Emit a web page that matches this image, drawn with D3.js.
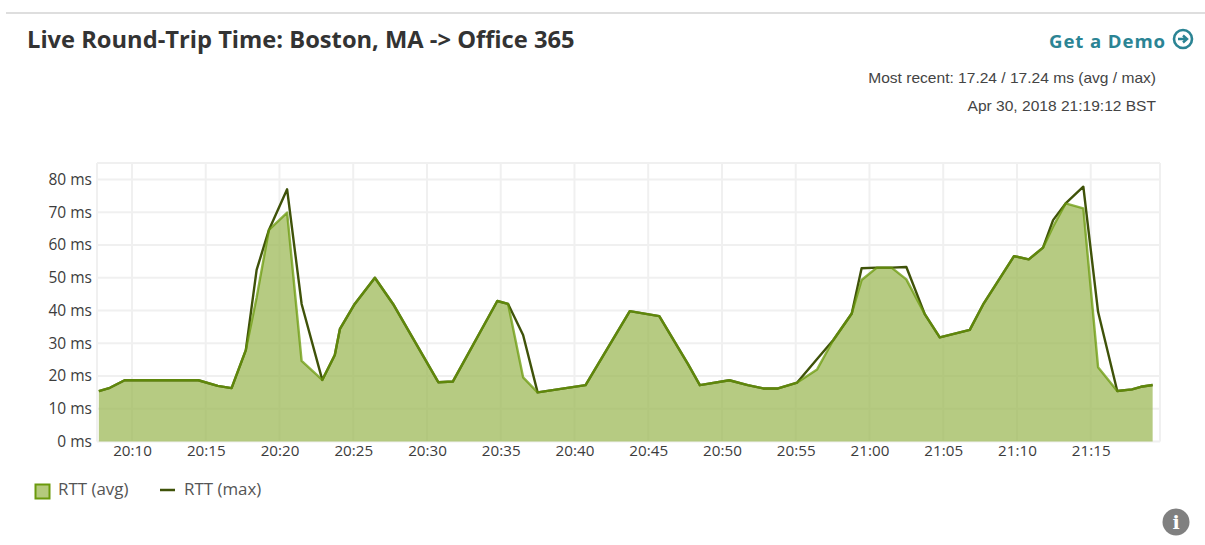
<!DOCTYPE html>
<html>
<head>
<meta charset="utf-8">
<script src="https://cdn.jsdelivr.net/npm/d3@7"></script>
<style>
  html, body { margin: 0; padding: 0; background: #fff; overflow: hidden; }
  svg { display: block; }
</style>
</head>
<body>
<div id="chart"></div>
<script>
// minutes after 20:00
const minutes = [7.76, 8.5, 9.5, 14.5, 15.83, 16.76, 17.73, 18.45, 19.29, 20.53, 21.5, 22.9, 23.76, 24.1, 25.1, 26.47, 27.7, 30.77, 31.75, 34.77, 35.5, 36.53, 37.5, 40.75, 43.76, 45.75, 47.7, 48.5, 50.5, 51.76, 52.8, 53.8, 55.1, 56.46, 57.55, 58.8, 59.47, 60.5, 61.5, 62.5, 63.76, 64.78, 66.8, 67.75, 69.8, 70.8, 71.78, 72.46, 73.3, 74.5, 75.5, 76.8, 77.8, 78.4, 79.2];
const rttAvg = [15.4, 16.4, 18.7, 18.7, 17, 16.3, 27.9, 44, 64.6, 69.9, 24.6, 18.8, 26.4, 34.4, 42, 50, 42, 18.1, 18.3, 42.9, 42, 19.6, 15, 17.2, 39.8, 38.3, 23.6, 17.2, 18.7, 17.2, 16.2, 16.2, 18, 22, 31, 39.1, 49.3, 53.1, 53.1, 49.5, 38.9, 31.8, 34.1, 42.2, 56.6, 55.6, 59.2, 65.6, 72.7, 71.2, 22.7, 15.4, 15.9, 16.7, 17.24];
const rttMax = [15.4, 16.4, 18.7, 18.7, 17, 16.3, 27.9, 52.4, 64.6, 77, 42, 18.8, 26.4, 34.4, 42, 50, 42, 18.1, 18.3, 42.9, 42, 32.5, 15, 17.2, 39.8, 38.3, 23.6, 17.2, 18.7, 17.2, 16.2, 16.2, 18, 25.2, 31, 39.1, 52.9, 53.1, 53.1, 53.3, 38.9, 31.8, 34.1, 42.2, 56.6, 55.6, 59.2, 67.6, 72.7, 77.8, 39.6, 15.4, 15.9, 16.7, 17.24];
const yTicks = [0, 10, 20, 30, 40, 50, 60, 70, 80];
const legendLabels = ["RTT (avg)", "RTT (max)"];

const width = 1205, height = 545;
const colorAvg = "#6b9a0c", colorMax = "#3f5209", colorFill = "#9dba58", gridColor = "#f0f0f0";
const openSans = "'Open Sans', sans-serif";
const arial = "'Liberation Sans', Arial, sans-serif";

const toDate = m => new Date(Date.UTC(2018, 3, 30, 20, 0, m * 60));
const points = minutes.map((m, i) => ({ t: toDate(m), avg: rttAvg[i], max: rttMax[i] }));

const svg = d3.select("#chart").append("svg")
    .attr("width", width)
    .attr("height", height)
    .attr("viewBox", `0 0 ${width} ${height}`);

// top rule
svg.append("rect").attr("x", 6).attr("y", 12).attr("width", width - 6).attr("height", 2).attr("fill", "#dedede");

// header
svg.append("text").attr("x", 27).attr("y", 48)
    .attr("font-family", openSans).attr("font-weight", 700).attr("font-size", 23.7)
    .attr("fill", "#333").text("Live Round-Trip Time: Boston, MA -> Office 365");
svg.append("text").attr("x", 1166).attr("y", 48).attr("text-anchor", "end")
    .attr("font-family", openSans).attr("font-weight", 700).attr("font-size", 18.6).attr("letter-spacing", 0.9)
    .attr("fill", "#2b8494").text("Get a Demo");
const demo = svg.append("g").attr("transform", "translate(1183,39)");
demo.append("circle").attr("r", 9).attr("fill", "none").attr("stroke", "#2b8494").attr("stroke-width", 2.6);
demo.append("path").attr("d", "M-5,0H3.5M0,-3.5L4,0L0,3.5").attr("fill", "none").attr("stroke", "#2b8494").attr("stroke-width", 2.4);
svg.append("text").attr("x", 1156).attr("y", 83).attr("text-anchor", "end")
    .attr("font-family", arial).attr("font-size", 15.55).attr("fill", "#444")
    .text("Most recent: 17.24 / 17.24 ms (avg / max)");
svg.append("text").attr("x", 1156).attr("y", 111).attr("text-anchor", "end")
    .attr("font-family", arial).attr("font-size", 15.55).attr("fill", "#444")
    .text("Apr 30, 2018 21:19:12 BST");

// scales: 20:10 sits at 132, 21:15 at 1091; 0 ms at 441.5, 80 ms at 179.5
const x = d3.scaleUtc().domain([toDate(10), toDate(75)]).range([132, 1090.7]);
const y = d3.scaleLinear().domain([0, 80]).range([441.5, 179.5]);
const plotLeft = 97, plotRight = 1160, plotTop = 163;
const xTicks = d3.utcMinute.every(5).range(toDate(10), toDate(76));

// frame and grid
const grid = svg.append("g").attr("stroke", gridColor).attr("stroke-width", 2);
yTicks.forEach(v => grid.append("line").attr("x1", plotLeft).attr("x2", plotRight).attr("y1", y(v)).attr("y2", y(v)));
xTicks.forEach(t => grid.append("line").attr("x1", x(t)).attr("x2", x(t)).attr("y1", plotTop).attr("y2", y(0)));
[plotLeft, plotRight].forEach(px => grid.append("line").attr("x1", px).attr("x2", px).attr("y1", plotTop).attr("y2", y(0)));
grid.append("line").attr("x1", plotLeft).attr("x2", plotRight).attr("y1", plotTop).attr("y2", plotTop);

// axes
const yAxis = svg.append("g").attr("transform", `translate(${plotLeft - 5},0)`)
    .call(d3.axisLeft(y).tickValues(yTicks).tickSize(0).tickPadding(0).tickFormat(d => `${d} ms`));
const xAxis = svg.append("g").attr("transform", `translate(0,${y(0)})`)
    .call(d3.axisBottom(x).tickValues(xTicks).tickSize(0).tickPadding(4).tickFormat(d3.utcFormat("%H:%M")));
[yAxis, xAxis].forEach(a => {
    a.select(".domain").remove();
    a.selectAll("text").attr("font-family", openSans).attr("fill", "#3c3c3c");
});
yAxis.selectAll("text").attr("font-size", 15.5);
xAxis.selectAll("text").attr("font-size", 15.2);

// area + lines, avg on top of max at partial opacity so shared stretches mix
const area = d3.area().x(d => x(d.t)).y0(y(0)).y1(d => y(d.avg));
const lineAvg = d3.line().x(d => x(d.t)).y(d => y(d.avg));
const lineMax = d3.line().x(d => x(d.t)).y(d => y(d.max));
svg.append("path").datum(points).attr("d", area).attr("fill", colorFill).attr("fill-opacity", 0.75);
svg.append("path").datum(points).attr("d", lineMax).attr("fill", "none").attr("stroke", colorMax).attr("stroke-width", 2.4).attr("stroke-linejoin", "round");
svg.append("path").datum(points).attr("d", lineAvg).attr("fill", "none").attr("stroke", colorAvg).attr("stroke-width", 2.4).attr("stroke-linejoin", "round").attr("stroke-opacity", 0.75);

// legend
svg.append("rect").attr("x", 35.5).attr("y", 484.5).attr("width", 14).attr("height", 14)
    .attr("fill", "#b5ca7d").attr("stroke", colorAvg).attr("stroke-width", 2);
svg.append("line").attr("x1", 160).attr("x2", 175).attr("y1", 490).attr("y2", 490)
    .attr("stroke", colorMax).attr("stroke-width", 2.5);
[58, 184].forEach((lx, i) => {
    svg.append("text").attr("x", lx).attr("y", 495)
        .attr("font-family", openSans).attr("font-size", 16.9).attr("fill", "#555")
        .text(legendLabels[i]);
});

// info badge
const info = svg.append("g").attr("transform", "translate(1176,522)");
info.append("circle").attr("r", 13.5).attr("fill", "#808080");
info.append("text").attr("text-anchor", "middle").attr("y", 7)
    .attr("font-family", "'DejaVu Serif', serif").attr("font-weight", 700).attr("font-size", 19)
    .attr("fill", "#fff").text("i");
</script>
</body>
</html>
